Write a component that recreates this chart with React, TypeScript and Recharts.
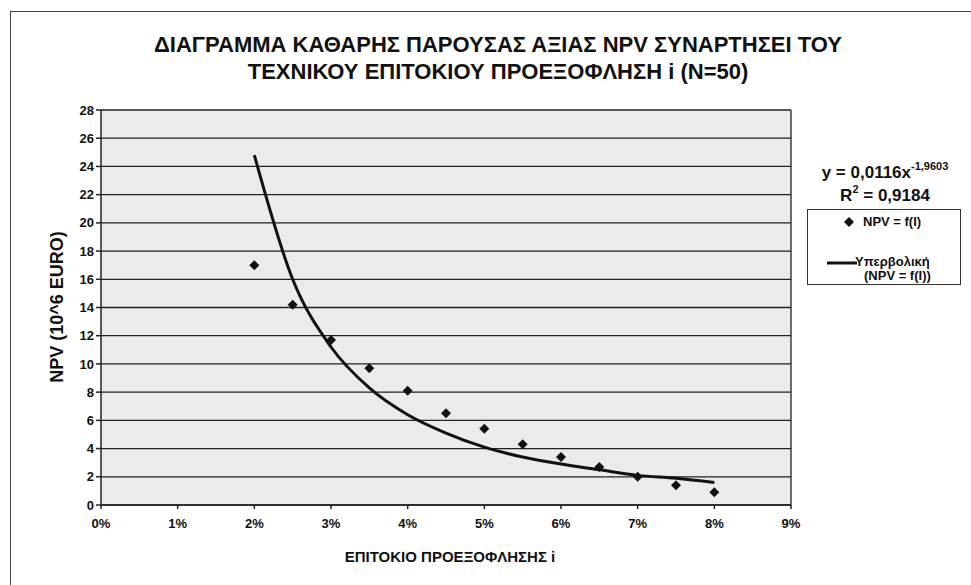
import { ComposedChart, Scatter, Line, XAxis, YAxis, CartesianGrid, ReferenceLine } from 'recharts';

// discount rate i and NPV (10^6 EURO)
const rates = [0.02, 0.025, 0.03, 0.035, 0.04, 0.045, 0.05, 0.055, 0.06, 0.065, 0.07, 0.075, 0.08];
const npvValues = [17.0, 14.2, 11.7, 9.7, 8.1, 6.5, 5.4, 4.3, 3.4, 2.7, 2.0, 1.4, 0.9];
// power trendline as drawn in the picture
const trendValues = [24.8, 16.0, 11.2, 8.3, 6.4, 5.1, 4.1, 3.4, 2.9, 2.5, 2.1, 1.9, 1.6];
const xTicks = [0, 0.01, 0.02, 0.03, 0.04, 0.05, 0.06, 0.07, 0.08, 0.09];
const yTicks = [0, 2, 4, 6, 8, 10, 12, 14, 16, 18, 20, 22, 24, 26, 28];

const pointData = rates.map((x, i) => ({ x, y: npvValues[i] }));
const trendData = rates.map((x, i) => ({ x, trend: trendValues[i] }));

const font = '"Liberation Sans", Arial, sans-serif';
const ink = '#111';

const Diamond = (props: any) => {
  const { cx, cy } = props;
  if (cx == null || cy == null) return null;
  return <polygon points={`${cx},${cy - 5} ${cx + 5},${cy} ${cx},${cy + 5} ${cx - 5},${cy}`} fill={ink} />;
};

const Sup = ({ children }: { children: React.ReactNode }) => (
  <span style={{ fontSize: 11, position: 'relative', top: -8, lineHeight: 0 }}>{children}</span>
);

const LegendBox = () => (
  <div
    style={{
      position: 'absolute',
      left: 807,
      top: 209,
      width: 152,
      height: 74,
      border: '1px solid #333',
      background: '#fff',
      fontWeight: 'bold',
      fontSize: 13,
      color: ink,
    }}
  >
    <svg width={12} height={12} style={{ position: 'absolute', left: 35, top: 6 }}>
      <polygon points="6,1 11,6 6,11 1,6" fill={ink} />
    </svg>
    <div style={{ position: 'absolute', left: 55, top: 4 }}>NPV = f(I)</div>
    <svg width={30} height={6} style={{ position: 'absolute', left: 19, top: 50 }}>
      <line x1={0} y1={3} x2={30} y2={3} stroke={ink} strokeWidth={3} />
    </svg>
    <div style={{ position: 'absolute', left: 47, top: 45, lineHeight: '14px' }}>
      Υπερβολική
      <br />
      <span style={{ marginLeft: 9 }}>(NPV = f(I))</span>
    </div>
  </div>
);

const App = () => {
  return (
    <div style={{ position: 'absolute', left: 0, top: 0, width: 971, height: 585, background: '#fff', fontFamily: font, color: ink, overflow: 'hidden' }}>
      <div style={{ position: 'absolute', left: 10, top: 11, width: 970, height: 600, borderLeft: '1.5px solid #444', borderTop: '1.5px solid #444' }} />
      <div
        style={{
          position: 'absolute',
          left: 98,
          width: 800,
          top: 31,
          textAlign: 'center',
          fontWeight: 'bold',
          fontSize: 22,
          lineHeight: '27px',
        }}
      >
        ΔΙΑΓΡΑΜΜΑ ΚΑΘΑΡΗΣ ΠΑΡΟΥΣΑΣ ΑΞΙΑΣ NPV ΣΥΝΑΡΤΗΣΕΙ ΤΟΥ
        <br />
        ΤΕΧΝΙΚΟΥ ΕΠΙΤΟΚΙΟΥ ΠΡΟΕΞΟΦΛΗΣΗ i (N=50)
      </div>
      <div style={{ position: 'absolute', left: 805, width: 160, top: 161, textAlign: 'center', fontWeight: 'bold', fontSize: 17, lineHeight: '23px' }}>
        y = 0,0116x<Sup>-1,9603</Sup>
        <br />
        R<Sup>2</Sup> = 0,9184
      </div>
      <div style={{ position: 'absolute', left: 250, width: 400, top: 548, textAlign: 'center', fontWeight: 'bold', fontSize: 15 }}>
        ΕΠΙΤΟΚΙΟ ΠΡΟΕΞΟΦΛΗΣΗΣ i
      </div>
      <div
        style={{
          position: 'absolute',
          left: 57,
          top: 307,
          transform: 'translate(-50%, -50%) rotate(-90deg)',
          whiteSpace: 'nowrap',
          fontWeight: 'bold',
          fontSize: 18,
        }}
      >
        NPV (10^6 EURO)
      </div>
      <div style={{ position: 'absolute', left: 0, top: 0 }}>
        <ComposedChart width={971} height={585} margin={{ top: 110, right: 180, bottom: 50, left: 41 }}>
          <CartesianGrid vertical={false} fill="#ebebeb" stroke="#222" strokeWidth={1.3} />
          <XAxis
            dataKey="x"
            type="number"
            domain={[0, 0.09]}
            ticks={xTicks}
            allowDuplicatedCategory={false}
            tickFormatter={(v: number) => `${Math.round(v * 100)}%`}
            stroke="#222"
            strokeWidth={1.5}
            tickSize={4}
            height={30}
            tick={{ fill: ink, fontSize: 13, fontWeight: 'bold', fontFamily: font, dy: 8 }}
          />
          <YAxis
            type="number"
            domain={[0, 28]}
            ticks={yTicks}
            interval={0}
            stroke="#222"
            strokeWidth={1.5}
            tickSize={5}
            width={60}
            tick={{ fill: ink, fontSize: 13, fontWeight: 'bold', fontFamily: font }}
          />
          <ReferenceLine x={0.09} stroke="#222" strokeWidth={1.3} />
          <Line
            data={trendData}
            dataKey="trend"
            type="monotone"
            stroke={ink}
            strokeWidth={3}
            dot={false}
            isAnimationActive={false}
            name="Υπερβολική (NPV = f(I))"
          />
          <Scatter data={pointData} dataKey="y" fill={ink} shape={Diamond} isAnimationActive={false} name="NPV = f(I)" />
        </ComposedChart>
      </div>
      <LegendBox />
    </div>
  );
};

export default App;
